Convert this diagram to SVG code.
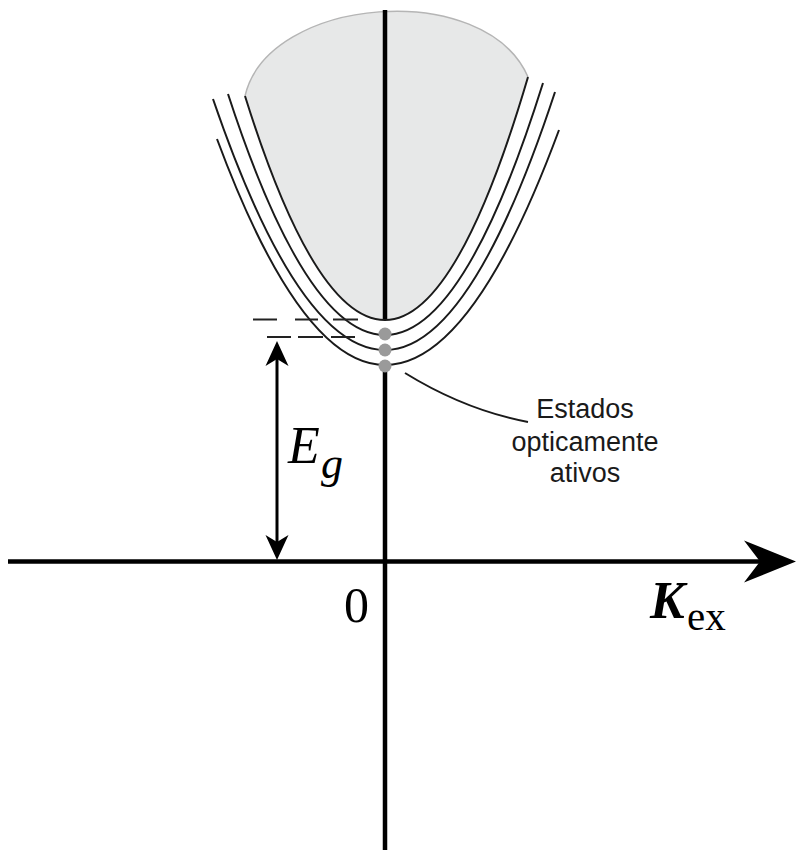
<svg xmlns="http://www.w3.org/2000/svg" width="797" height="850" viewBox="0 0 797 850">
<style>
.band{fill:none;stroke:#1a1a1a;stroke-width:2}
.axis{fill:none;stroke:#000;stroke-width:4.5}
.dash{fill:none;stroke:#222;stroke-width:2}
.dot{fill:#9a9a9a}
.math{font-family:"Liberation Serif","Times New Roman",serif;fill:#000}
.lbl{font-family:"Liberation Sans",Arial,sans-serif;font-size:27px;fill:#1a1a1a;text-anchor:middle}
</style>
<defs>
<marker id="axisHead" markerUnits="userSpaceOnUse" viewBox="-53 -22 54 44" refX="-36" refY="0" markerWidth="54" markerHeight="44" orient="auto">
<path d="M0,0 L-52,-21 L-36,0 L-52,21 Z" fill="#000"/>
</marker>
<marker id="egHead" markerUnits="userSpaceOnUse" viewBox="-26 -12 27 24" refX="-18" refY="0" markerWidth="27" markerHeight="24" orient="auto-start-reverse">
<path d="M0,0 L-25,-11.5 L-18,0 L-25,11.5 Z" fill="#000"/>
</marker>
</defs>

<g id="continuum">
<path d="M245,96 C268,-4 485,-22 528,77 Q456.5,320 385,320 Q315,320 245,96 Z" fill="#e7e8e8"/>
<path d="M245,96 C268,-4 485,-22 528,77" fill="none" stroke="#b5b5b5" stroke-width="1.5"/>
</g>

<g id="axes">
<path class="axis" d="M385,10 V320 M385,372 V850"/>
<path class="axis" d="M8,561.5 H760" marker-end="url(#axisHead)"/>
</g>

<g id="bands">
<path id="band-1" class="band" d="M245,96 Q315,320 385,320 Q456.5,320 528,77"/>
<path id="band-2" class="band" d="M228,94 Q306.5,335 385,335 Q464,335 543,83"/>
<path id="band-3" class="band" d="M213,99 Q299,350 385,350 Q470,350 555,92"/>
<path id="band-4" class="band" d="M217,139 Q301,365 385,365 Q472,365 559,130"/>
</g>

<g id="levels">
<path class="dash" d="M253,319.5 H358" stroke-dasharray="24 18 23 15 25"/>
<path class="dash" d="M267,337 H355" stroke-dasharray="24 7 25 8 24"/>
</g>

<g id="states">
<circle class="dot" cx="385" cy="334" r="6.5"/>
<circle class="dot" cx="385" cy="350" r="6.5"/>
<circle class="dot" cx="385" cy="366" r="6.5"/>
</g>

<g id="connectors">
<path d="M277,359 V542" fill="none" stroke="#000" stroke-width="3" marker-start="url(#egHead)" marker-end="url(#egHead)"/>
<path d="M405,373 Q465,410 528,422" fill="none" stroke="#1a1a1a" stroke-width="2"/>
</g>

<g id="label-eg">
<text class="math" x="288" y="463" font-size="52" font-style="italic">E</text>
<text class="math" x="321" y="478" font-size="44" font-style="italic">g</text>
</g>

<g id="label-zero">
<text class="math" x="344" y="622" font-size="50">0</text>
</g>

<g id="label-kex">
<text class="math" x="650" y="618" font-size="52" font-style="italic" font-weight="bold">K</text>
<text class="math" x="687" y="630" font-size="41">ex</text>
</g>

<g id="label-states">
<text class="lbl" x="585" y="418">Estados</text>
<text class="lbl" x="585" y="451">opticamente</text>
<text class="lbl" x="585" y="482">ativos</text>
</g>
</svg>
